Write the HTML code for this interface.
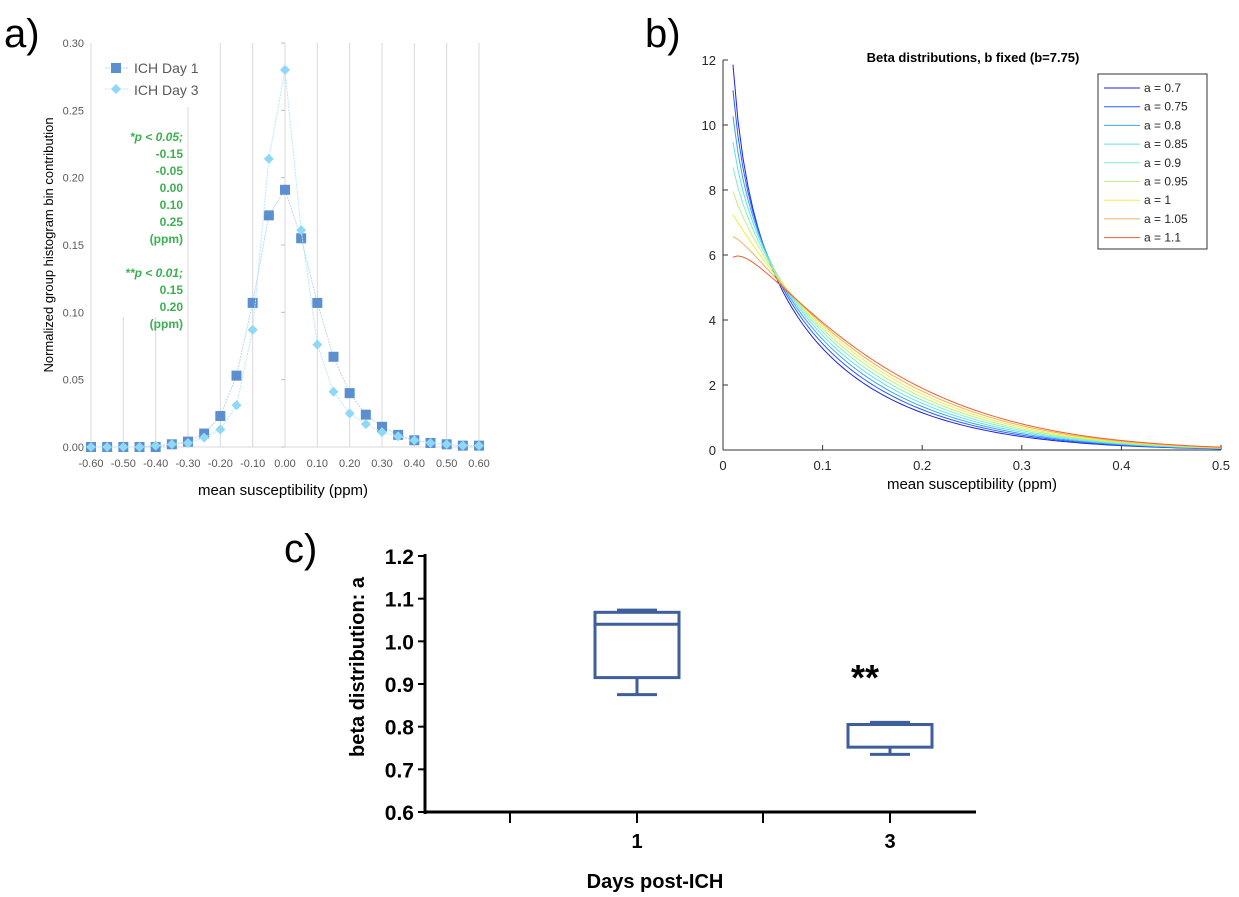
<!DOCTYPE html>
<html><head><meta charset="utf-8"><style>
body{margin:0;background:#fff;width:1239px;height:897px;overflow:hidden;font-family:"Liberation Sans",sans-serif}
svg{position:absolute;left:0;top:0}
</style></head><body>
<svg id="s" width="1239" height="897">
<text x="4" y="47" font-size="40">a)</text>
<text x="645" y="47" font-size="40">b)</text>
<text x="284" y="562" font-size="40">c)</text>
<g id="pa"></g>
<g id="pb"></g>
<g id="pc"></g>
</svg>
<script>
const NS='http://www.w3.org/2000/svg';
function mk(p,t,a,txt){const e=document.createElementNS(NS,t);for(const k in a)e.setAttribute(k,a[k]);if(txt!==undefined)e.textContent=txt;p.appendChild(e);return e;}

// ---- Panel A data
const aX=[-0.60,-0.55,-0.50,-0.45,-0.40,-0.35,-0.30,-0.25,-0.20,-0.15,-0.10,-0.05,0.00,0.05,0.10,0.15,0.20,0.25,0.30,0.35,0.40,0.45,0.50,0.55,0.60];
const day1=[0,0,0,0,0,0.002,0.004,0.010,0.023,0.053,0.107,0.172,0.191,0.155,0.107,0.067,0.040,0.024,0.015,0.009,0.005,0.003,0.002,0.001,0.001];
const day3=[0,0,0,0,0.001,0.002,0.003,0.007,0.013,0.031,0.087,0.214,0.280,0.161,0.076,0.041,0.025,0.017,0.011,0.008,0.005,0.003,0.002,0.001,0.001];
const aYTicks=[0,0.05,0.10,0.15,0.20,0.25,0.30];
const aXTicks=[-0.6,-0.5,-0.4,-0.3,-0.2,-0.1,0,0.1,0.2,0.3,0.4,0.5,0.6];
// ---- Panel B data
const bAlphas=[0.7,0.75,0.8,0.85,0.9,0.95,1,1.05,1.1];
const bBeta=7.75;
const bColors=['#2020e0','#2060ff','#40a0f0','#60e0f0','#80f0c0','#c0f080','#f0f040','#f0b060','#f06030'];
const bXTicks=[0,0.1,0.2,0.3,0.4,0.5];
const bYTicks=[0,2,4,6,8,10,12];
// ---- Panel C data
const cGroups=['1','3'];
const cMin=[0.875,0.735],cQ1=[0.915,0.752],cMed=[1.04,0.805],cQ3=[1.068,0.805],cMax=[1.073,0.81];
const cYTicks=[0.6,0.7,0.8,0.9,1.0,1.1,1.2];

// Panel A
(function(){
const g=document.getElementById('pa');
const X=v=>91+(v+0.6)/1.2*388, Y=v=>447-v/0.30*404;
aXTicks.forEach(t=>{let y1=43;
 if(t==-0.3)y1=107; if(t==-0.4||t==-0.5)y1=317;
 const l=mk(g,'line',{x1:X(t),x2:X(t),y1:y1,y2:447,stroke:'#d9d9d9','stroke-width':1});
 
 const tx=mk(g,'text',{x:X(t),y:467,'font-size':11,fill:'#595959','text-anchor':'middle'},t.toFixed(2));
 });
mk(g,'line',{x1:91,x2:479,y1:447,y2:447,stroke:'#d9d9d9'});
aYTicks.forEach(t=>{const tx=mk(g,'text',{x:84,y:Y(t)+4,'font-size':11,fill:'#595959','text-anchor':'end'},t.toFixed(2));
 
 mk(g,'line',{x1:281,x2:285,y1:Y(t),y2:Y(t),stroke:'#bfbfbf'});});
[[day1,'#5b8fd0','#c0d4ee','sq','series-day1'],[day3,'#8fd8f8','#b8e8fa','di','series-day3']].forEach(([d,c,lc,m,n])=>{
 const p=mk(g,'polyline',{points:d.map((v,i)=>X(aX[i])+','+Y(v)).join(' '),fill:'none',stroke:lc,'stroke-width':1,'stroke-dasharray':'2,1'});
 
 d.forEach((v,i)=>{const x=X(aX[i]),y=Y(v);let e;
  if(m=='sq')e=mk(g,'rect',{x:x-5,y:y-5,width:10,height:10,fill:c});
  else e=mk(g,'polygon',{points:`${x},${y-5} ${x+5},${y} ${x},${y+5} ${x-5},${y}`,fill:c});
  });
});
mk(g,'line',{x1:105,x2:128,y1:68,y2:68,stroke:'#c0d4ee','stroke-dasharray':'2,1'});mk(g,'rect',{x:111,y:63,width:10,height:10,fill:'#5b8fd0'});
mk(g,'text',{x:134,y:73,'font-size':14,fill:'#595959'},'ICH Day 1');
mk(g,'line',{x1:105,x2:128,y1:89,y2:89,stroke:'#b8e8fa','stroke-dasharray':'2,1'});mk(g,'polygon',{points:'116,84 121,89 116,94 111,89',fill:'#8fd8f8'});
mk(g,'text',{x:134,y:95,'font-size':14,fill:'#595959'},'ICH Day 3');
const gl=['*p < 0.05;','-0.15','-0.05','0.00','0.10','0.25','(ppm)','','**p < 0.01;','0.15','0.20','(ppm)'];
gl.forEach((t,i)=>{if(!t)return;const e=mk(g,'text',{x:183,y:141+i*17,'font-size':12,'font-weight':'bold',fill:'#3cb050','text-anchor':'end','font-style':t.includes('p <')?'italic':'normal'},t);
 });
const yl=mk(g,'text',{x:0,y:0,'font-size':13,fill:'#000','text-anchor':'middle',transform:'translate(53,245) rotate(-90)'},'Normalized group histogram bin contribution');

mk(g,'text',{x:283,y:495,'font-size':15,fill:'#000','text-anchor':'middle'},'mean susceptibility (ppm)');
})();

// Panel B
(function(){
const g=document.getElementById('pb');
const X=v=>723+v/0.5*498, Y=v=>450-v/12*390;
function lg(z){const c=[76.18009172947146,-86.50532032941677,24.01409824083091,-1.231739572450155,0.1208650973866179e-2,-0.5395239384953e-5];let x=z,y=z,t=x+5.5;t-=(x+0.5)*Math.log(t);let s=1.000000000190015;for(let j=0;j<6;j++)s+=c[j]/++y;return -t+Math.log(2.5066282746310005*s/x);}
mk(g,'line',{x1:723,x2:1221,y1:450,y2:450,stroke:'#333'});mk(g,'line',{x1:723,x2:723,y1:60,y2:450,stroke:'#333'});
bXTicks.forEach(t=>{mk(g,'line',{x1:X(t),x2:X(t),y1:450,y2:445,stroke:'#333'});
 const e=mk(g,'text',{x:X(t),y:470,'font-size':13,fill:'#262626','text-anchor':'middle'},String(t));});
bYTicks.forEach(t=>{mk(g,'line',{x1:723,x2:728,y1:Y(t),y2:Y(t),stroke:'#333'});
 const e=mk(g,'text',{x:716,y:Y(t)+5,'font-size':13,fill:'#262626','text-anchor':'end'},String(t));});
bAlphas.forEach((a,k)=>{const lb=lg(a)+lg(bBeta)-lg(a+bBeta);const pts=[];
 for(let x=0.01;x<=0.5001;x+=0.005){const v=Math.exp((a-1)*Math.log(x)+(bBeta-1)*Math.log(1-x)-lb);pts.push(X(x)+','+Y(v));}
 const p=mk(g,'polyline',{points:pts.join(' '),fill:'none',stroke:bColors[k],'stroke-width':1});
 
 const ly=88+k*18.7;
 mk(g,'line',{x1:1104,x2:1140,y1:ly,y2:ly,stroke:bColors[k]});
 const e=mk(g,'text',{x:1144,y:ly+4,'font-size':12,fill:'#262626'},'a = '+a);});
const lb=mk(g,'rect',{x:1098,y:74,width:109,height:175,fill:'none',stroke:'#333'});
mk(g,'text',{x:973,y:62,'font-size':13,'font-weight':'bold','text-anchor':'middle'},'Beta distributions, b fixed (b=7.75)');
mk(g,'text',{x:972,y:489,'font-size':15,'text-anchor':'middle'},'mean susceptibility (ppm)');
})();

// Panel C
(function(){
const g=document.getElementById('pc');const col='#3e5e9c';
const Y=v=>812-(v-0.6)/0.6*256; const GX=[637,890];
mk(g,'line',{x1:425,x2:425,y1:554,y2:814,stroke:'#000','stroke-width':3});
mk(g,'line',{x1:424,x2:976,y1:812,y2:812,stroke:'#000','stroke-width':3});
cYTicks.forEach(t=>{mk(g,'line',{x1:418,x2:425,y1:Y(t),y2:Y(t),stroke:'#000','stroke-width':2});
 const e=mk(g,'text',{x:414,y:Y(t)+8,'font-size':21,'font-weight':'bold','text-anchor':'end'},t.toFixed(1));});
[510,637,763,890].forEach(x=>mk(g,'line',{x1:x,x2:x,y1:812,y2:823,stroke:'#000','stroke-width':2}));
cGroups.forEach((n,i)=>{const x=GX[i];
 const e=mk(g,'text',{x:x,y:848,'font-size':20,'font-weight':'bold','text-anchor':'middle'},n);
 const b=mk(g,'rect',{x:x-42,y:Y(cQ3[i]),width:84,height:Y(cQ1[i])-Y(cQ3[i]),fill:'none',stroke:col,'stroke-width':3});
 
 mk(g,'line',{x1:x-42,x2:x+42,y1:Y(cMed[i]),y2:Y(cMed[i]),stroke:col,'stroke-width':3});
 mk(g,'line',{x1:x,x2:x,y1:Y(cQ3[i]),y2:Y(cMax[i]),stroke:col,'stroke-width':3});
 mk(g,'line',{x1:x-20,x2:x+20,y1:Y(cMax[i]),y2:Y(cMax[i]),stroke:col,'stroke-width':3});
 mk(g,'line',{x1:x,x2:x,y1:Y(cQ1[i]),y2:Y(cMin[i]),stroke:col,'stroke-width':3});
 mk(g,'line',{x1:x-20,x2:x+20,y1:Y(cMin[i]),y2:Y(cMin[i]),stroke:col,'stroke-width':3});});
mk(g,'text',{x:865,y:690,'font-size':36,'font-weight':'bold','text-anchor':'middle'},'**');
mk(g,'text',{x:0,y:0,'font-size':20,'font-weight':'bold','text-anchor':'middle',transform:'translate(364,667) rotate(-90)'},'beta distribution: a');
mk(g,'text',{x:655,y:888,'font-size':20,'font-weight':'bold','text-anchor':'middle'},'Days post-ICH');
})();
</script>
</body></html>
